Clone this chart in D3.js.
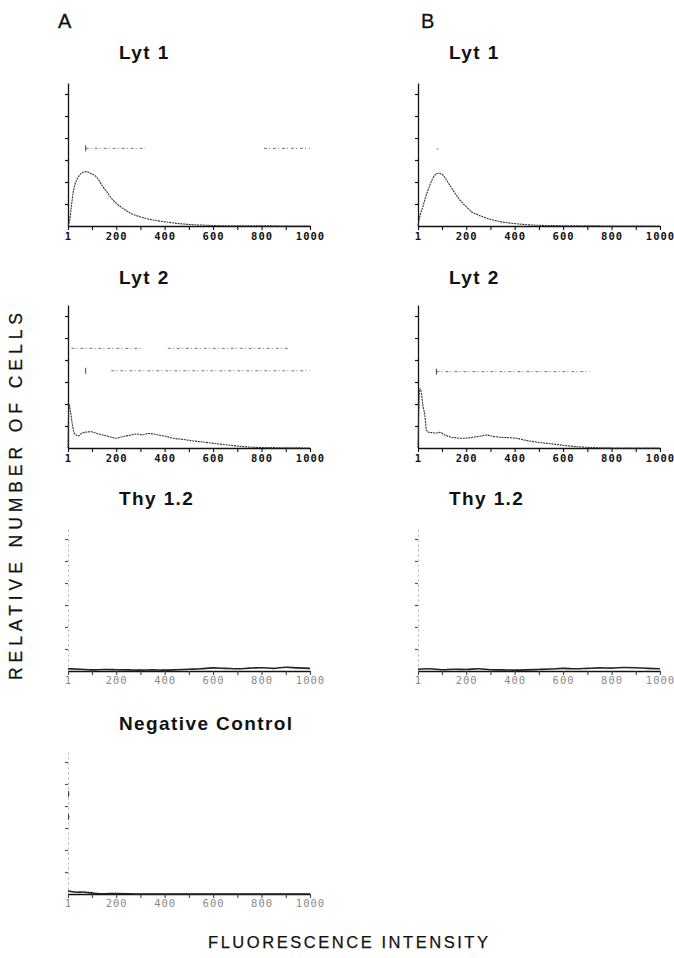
<!DOCTYPE html>
<html>
<head>
<meta charset="utf-8">
<script src="https://cdn.jsdelivr.net/npm/d3@7"></script>
<style>
  html, body { margin: 0; padding: 0; background: #fff; }
  svg { display: block; }
</style>
</head>
<body>
<svg id="chart" width="674" height="958"></svg>
<script>
// ---------- DATA (channel 1..1000, relative cell number in tick units) ----------
const xTickValues = [1, 100, 200, 300, 400, 500, 600, 700, 800, 900, 1000];
const xTickLabels = ["1", "", "200", "", "400", "", "600", "", "800", "", "1000"];
const yTickValues = [1, 2, 3, 4, 5, 6];

const panelTitles = ["Lyt 1", "Lyt 2", "Thy 1.2", "Negative Control"];
const columnLetters = ["A", "B"];

// Lyt 1, column A
const lyt1A_x = [1, 8, 15, 22, 30, 42, 55, 66, 77, 90, 100, 112, 130, 145, 165, 180, 200, 230, 260, 298, 340, 380, 409, 450, 504, 560, 600, 700, 800, 900, 1000];
const lyt1A_y = [0.0, 0.27, 0.9, 1.5, 1.9, 2.2, 2.38, 2.45, 2.47, 2.42, 2.36, 2.3, 2.05, 1.79, 1.5, 1.26, 1.04, 0.78, 0.58, 0.42, 0.3, 0.22, 0.18, 0.12, 0.07, 0.04, 0.02, 0.01, 0.01, 0.0, 0.0];
// Lyt 1, column B
const lyt1B_x = [1, 10, 21, 32, 43, 55, 62, 72, 84, 100, 115, 132, 150, 174, 200, 222, 250, 298, 340, 408, 450, 504, 560, 620, 700, 800, 1000];
const lyt1B_y = [0.0, 0.5, 0.88, 1.3, 1.64, 2.0, 2.17, 2.32, 2.4, 2.35, 2.15, 1.86, 1.55, 1.18, 0.88, 0.65, 0.5, 0.31, 0.2, 0.1, 0.06, 0.03, 0.02, 0.01, 0.01, 0.0, 0.0];
// Lyt 2, column A
const lyt2A_x = [1, 5, 12, 20, 28, 36, 45, 57, 75, 98, 120, 145, 170, 201, 220, 243, 265, 284, 310, 330, 353, 380, 410, 436, 470, 518, 560, 601, 640, 683, 720, 766, 820, 900, 1000];
const lyt2A_y = [0.0, 2.0, 1.6, 1.0, 0.65, 0.59, 0.55, 0.67, 0.72, 0.74, 0.66, 0.59, 0.52, 0.44, 0.5, 0.55, 0.6, 0.64, 0.6, 0.66, 0.64, 0.58, 0.52, 0.44, 0.4, 0.32, 0.27, 0.21, 0.16, 0.11, 0.07, 0.03, 0.02, 0.01, 0.0];
// Lyt 2, column B
const lyt2B_x = [1, 8, 15, 21, 29, 36, 45, 57, 75, 91, 110, 132, 155, 180, 210, 242, 265, 284, 310, 339, 370, 408, 440, 477, 520, 559, 610, 656, 700, 760, 850, 1000];
const lyt2B_y = [0.0, 2.7, 2.49, 1.95, 1.5, 0.82, 0.72, 0.7, 0.68, 0.71, 0.6, 0.51, 0.47, 0.44, 0.46, 0.51, 0.55, 0.59, 0.53, 0.49, 0.47, 0.44, 0.36, 0.29, 0.23, 0.18, 0.11, 0.06, 0.03, 0.01, 0.0, 0.0];
// Thy 1.2, column A
const thyA_x = [1, 50, 100, 150, 200, 250, 300, 350, 400, 450, 500, 550, 600, 650, 700, 750, 800, 850, 900, 950, 1000];
const thyA_y = [0.1, 0.08, 0.05, 0.07, 0.06, 0.05, 0.04, 0.05, 0.04, 0.06, 0.08, 0.1, 0.14, 0.12, 0.1, 0.13, 0.15, 0.12, 0.17, 0.14, 0.12];
// Thy 1.2, column B
const thyB_x = [1, 50, 100, 150, 200, 250, 300, 350, 400, 450, 500, 550, 600, 650, 700, 750, 800, 850, 900, 950, 1000];
const thyB_y = [0.08, 0.1, 0.06, 0.08, 0.07, 0.1, 0.06, 0.05, 0.04, 0.05, 0.07, 0.09, 0.12, 0.1, 0.12, 0.14, 0.13, 0.16, 0.15, 0.12, 0.1];
// Negative control, column A
const negA_x = [1, 20, 40, 60, 80, 100, 120, 150, 200, 300, 400, 500, 600, 700, 800, 900, 1000];
const negA_y = [0.15, 0.1, 0.08, 0.09, 0.07, 0.05, 0.02, 0.01, 0.02, 0.0, 0.0, 0.0, 0.0, 0.0, 0.0, 0.0, 0.0];

// Gate / marker lines: level (tick units), from, to (channels)
const lyt1A_gates = [{ level: 3.53, from: 74, to: 320 }, { level: 3.53, from: 810, to: 1000 }];
const lyt1B_gates = [{ level: 3.5, from: 78, to: 86 }];
const lyt2A_gates = [{ level: 4.53, from: 15, to: 305 }, { level: 4.53, from: 413, to: 909 },
                     { level: 3.51, from: 180, to: 1000 }];
const lyt2B_gates = [{ level: 3.47, from: 77, to: 711 }];
const negA_gates = [{ level: 4.55, from: 1, to: 10 }, { level: 3.5, from: 1, to: 10 }];
// gate start bars (channel, level)
const lyt1A_bars = [{ x: 74, level: 3.53 }];
const lyt2A_bars = [{ x: 74, level: 3.51 }];
const lyt2B_bars = [{ x: 77, level: 3.47 }];
const negA_bars = [{ x: 3, level: 4.55 }, { x: 3, level: 3.5 }];

// ---------- LAYOUT ----------
const svg = d3.select("#chart");
const colX = [[68, 310], [418, 660]];
const rowBase = [226, 448, 671, 894];
const tickGap = 22;
const titleX = [119, 449];
const titleDy = [167, 164, 166, 164];

const panels = [
  { row: 0, col: 0, xs: lyt1A_x, ys: lyt1A_y, gates: lyt1A_gates, bars: lyt1A_bars, faint: false },
  { row: 0, col: 1, xs: lyt1B_x, ys: lyt1B_y, gates: lyt1B_gates, bars: [], faint: false },
  { row: 1, col: 0, xs: lyt2A_x, ys: lyt2A_y, gates: lyt2A_gates, bars: lyt2A_bars, faint: false },
  { row: 1, col: 1, xs: lyt2B_x, ys: lyt2B_y, gates: lyt2B_gates, bars: lyt2B_bars, faint: false },
  { row: 2, col: 0, xs: thyA_x, ys: thyA_y, gates: [], bars: [], faint: true },
  { row: 2, col: 1, xs: thyB_x, ys: thyB_y, gates: [], bars: [], faint: true },
  { row: 3, col: 0, xs: negA_x, ys: negA_y, gates: negA_gates, bars: negA_bars, faint: true }
];

// column letters
columnLetters.forEach((L, i) => {
  svg.append("text")
    .attr("x", i === 0 ? 58 : 421).attr("y", 28)
    .attr("font-family", "Liberation Sans, Arial, sans-serif")
    .attr("font-size", 20).attr("fill", "#111")
    .attr("stroke", "#111").attr("stroke-width", 0.3)
    .text(L);
});

panels.forEach(p => {
  const base = rowBase[p.row];
  const x = d3.scaleLinear().domain([1, 1000]).range(colX[p.col]);
  const y = d3.scaleLinear().domain([0, 6]).range([base, base - 6 * tickGap]);
  const g = svg.append("g");

  // title
  g.append("text")
    .attr("x", titleX[p.col]).attr("y", base - titleDy[p.row])
    .attr("font-family", "Liberation Sans, Arial, sans-serif")
    .attr("font-weight", "bold").attr("font-size", 19)
    .attr("letter-spacing", 1.4).attr("fill", "#111")
    .text(panelTitles[p.row]);

  // y axis
  const yAxis = d3.axisLeft(d3.scaleLinear().domain([0, 6.5]).range([base, base - 6.5 * tickGap]))
    .tickValues(yTickValues).tickSize(3).tickSizeOuter(0).tickFormat("");
  const ya = g.append("g").attr("transform", `translate(${colX[p.col][0]},0)`).call(yAxis);
  ya.select(".domain").attr("stroke", p.faint ? "#999" : "#111")
    .attr("stroke-width", p.faint ? 0.8 : 1.3)
    .attr("stroke-dasharray", p.faint ? "2,3" : null);
  ya.selectAll(".tick line").attr("stroke", p.faint ? "#555" : "#111").attr("stroke-width", 1.2);

  // x axis
  const xAxis = d3.axisBottom(x).tickValues(xTickValues).tickSize(4).tickSizeOuter(0)
    .tickFormat((d, i) => xTickLabels[i]);
  const xa = g.append("g").attr("transform", `translate(0,${base})`).call(xAxis);
  xa.select(".domain").attr("stroke", "#111").attr("stroke-width", 1.5);
  xa.selectAll(".tick line").attr("stroke", p.faint ? "#444" : "#111").attr("stroke-width", 1.1);
  xa.selectAll(".tick text")
    .attr("font-family", "DejaVu Sans Mono, monospace")
    .attr("font-size", 10.5).attr("letter-spacing", 1)
    .attr("fill", p.faint ? "#8a8a8a" : "#111")
    .attr("font-weight", p.faint ? "normal" : "bold")
    .attr("dy", p.faint ? "0.55em" : "0.65em");

  // gates
  p.gates.forEach(gt => {
    g.append("line")
      .attr("x1", x(gt.from)).attr("x2", x(gt.to))
      .attr("y1", y(gt.level)).attr("y2", y(gt.level))
      .attr("stroke", "#666").attr("stroke-width", 0.9)
      .attr("stroke-dasharray", "3,2,1,3");
  });
  p.bars.forEach(b => {
    g.append("line")
      .attr("x1", x(b.x)).attr("x2", x(b.x))
      .attr("y1", y(b.level) - 3).attr("y2", y(b.level) + 3)
      .attr("stroke", "#444").attr("stroke-width", 1);
  });

  // histogram curve
  const pts = p.xs.map((v, i) => [v, p.ys[i]]);
  const line = d3.line().x(d => x(d[0])).y(d => y(d[1])).curve(d3.curveMonotoneX);
  g.append("path").datum(pts)
    .attr("d", line).attr("fill", "none")
    .attr("stroke", p.faint ? "#222" : "#333")
    .attr("stroke-width", p.faint ? 1.6 : 1.1)
    .attr("stroke-dasharray", p.faint ? null : "2,0.8");
});

// axis titles
svg.append("text")
  .attr("x", 208).attr("y", 948)
  .attr("font-family", "Liberation Sans, Arial, sans-serif")
  .attr("font-size", 16.5).attr("fill", "#111")
  .attr("stroke", "#111").attr("stroke-width", 0.25)
  .attr("textLength", 280).attr("lengthAdjust", "spacing")
  .text("FLUORESCENCE INTENSITY");

svg.append("text")
  .attr("transform", "translate(22,680) rotate(-90)")
  .attr("font-family", "Liberation Sans, Arial, sans-serif")
  .attr("font-size", 17.5).attr("fill", "#111")
  .attr("stroke", "#111").attr("stroke-width", 0.25)
  .attr("textLength", 367).attr("lengthAdjust", "spacing")
  .text("RELATIVE NUMBER OF CELLS");
</script>
</body>
</html>
